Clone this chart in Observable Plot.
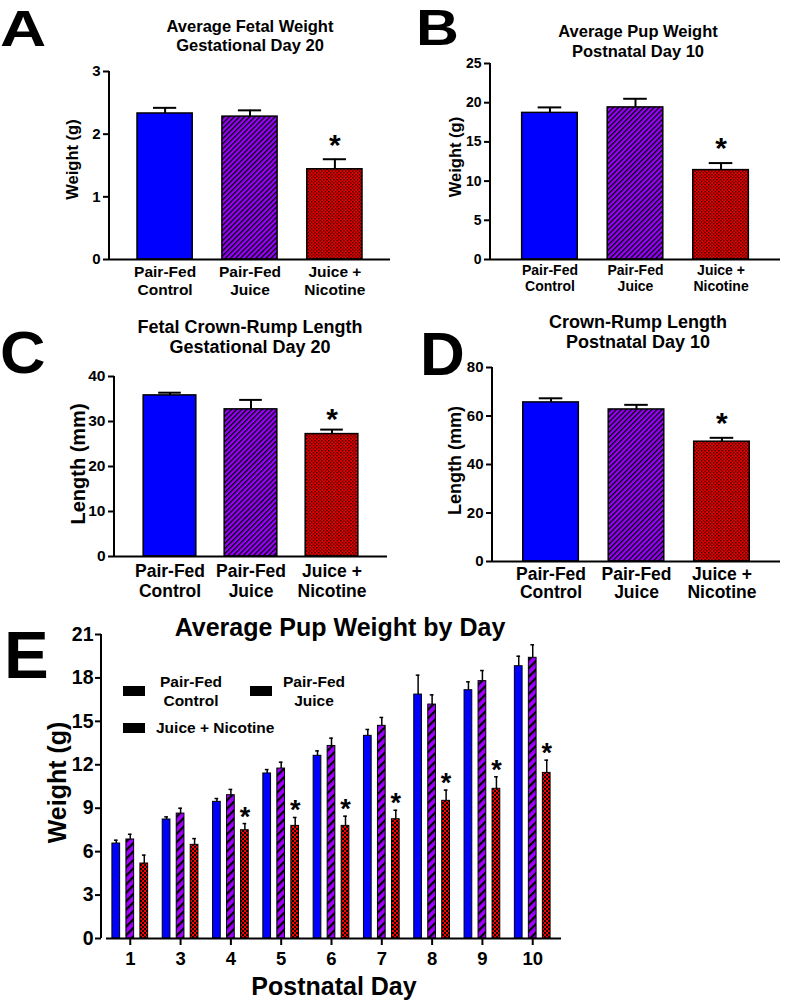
<!DOCTYPE html>
<html>
<head>
<meta charset="utf-8">
<script src="https://cdn.jsdelivr.net/npm/d3@7"></script>
<script src="https://cdn.jsdelivr.net/npm/@observablehq/plot@0.6"></script>
<style>
  html, body { margin: 0; padding: 0; background: #fff; }
  #fig { position: relative; width: 786px; height: 1002px; background: #fff; color: #000;
         font-family: "Liberation Sans", Arial, sans-serif; font-weight: bold; overflow: hidden; }
  #fig div.t { position: absolute; white-space: pre; text-align: center; }
</style>
</head>
<body>
<svg width="0" height="0" style="position:absolute">
  <defs>
    <pattern id="hatchS" patternUnits="userSpaceOnUse" width="3.6" height="3.6" patternTransform="rotate(45)">
      <rect width="3.6" height="3.6" fill="#9b00ff"/>
      <rect width="1.3" height="3.6" fill="#000"/>
    </pattern>
    <pattern id="checkS" patternUnits="userSpaceOnUse" width="3.4" height="3.4">
      <rect width="3.4" height="3.4" fill="#f00000"/>
      <rect width="1.3" height="1.3" fill="#000"/>
      <rect x="1.7" y="1.7" width="1.3" height="1.3" fill="#000"/>
    </pattern>
    <pattern id="hatchL" patternUnits="userSpaceOnUse" width="6" height="6" patternTransform="rotate(45)">
      <rect width="6" height="6" fill="#a100ff"/>
      <rect width="2.2" height="6" fill="#000"/>
    </pattern>
    <pattern id="checkL" patternUnits="userSpaceOnUse" width="4" height="4">
      <rect width="4" height="4" fill="#000"/>
      <rect width="2.1" height="2.1" fill="#ff0000"/>
      <rect x="2" y="2" width="2.1" height="2.1" fill="#ff0000"/>
    </pattern>
  </defs>
</svg>
<div id="fig"></div>
<script>
// ---------------- DATA ----------------
const categories = ["Pair-Fed\nControl", "Pair-Fed\nJuice", "Juice +\nNicotine"];
const significant = [false, false, true];

// A: Average fetal weight, GD20 (g)
const fetalWeight = [2.33, 2.28, 1.44];
const fetalWeightErr = [0.09, 0.10, 0.16];
const fetalWeightTicks = [0, 1, 2, 3];

// B: Average pup weight, PND10 (g)
const pupWeight = [18.7, 19.4, 11.4];
const pupWeightErr = [0.7, 1.1, 0.9];
const pupWeightTicks = [0, 5, 10, 15, 20, 25];

// C: Fetal crown-rump length, GD20 (mm)
const fetalLength = [35.8, 32.7, 27.2];
const fetalLengthErr = [0.6, 2.1, 1.0];
const fetalLengthTicks = [0, 10, 20, 30, 40];

// D: Crown-rump length, PND10 (mm)
const pupLength = [65.6, 62.7, 49.4];
const pupLengthErr = [1.7, 1.9, 1.6];
const pupLengthTicks = [0, 20, 40, 60, 80];

// E: Average pup weight by day (g)
const days = ["1", "3", "4", "5", "6", "7", "8", "9", "10"];
const controlByDay = [6.56, 8.22, 9.44, 11.40, 12.62, 14.00, 16.85, 17.15, 18.81];
const controlByDayErr = [0.23, 0.18, 0.23, 0.27, 0.34, 0.44, 1.34, 0.58, 0.69];
const juiceByDay = [6.84, 8.63, 9.90, 11.74, 13.30, 14.69, 16.16, 17.78, 19.39];
const juiceByDayErr = [0.36, 0.37, 0.40, 0.44, 0.54, 0.58, 0.67, 0.73, 0.90];
const nicotineByDay = [5.18, 6.47, 7.48, 7.78, 7.78, 8.24, 9.51, 10.34, 11.44];
const nicotineByDayErr = [0.58, 0.43, 0.46, 0.58, 0.67, 0.62, 0.74, 0.83, 0.88];
const significantByDay = [false, false, true, true, true, true, true, true, true];
const weightByDayTicks = [0, 3, 6, 9, 12, 15, 18, 21];
const seriesNames = ["Pair-Fed\nControl", "Pair-Fed\nJuice", "Juice + Nicotine"];

// ---------------- HELPERS ----------------
const fig = document.getElementById("fig");
const FONT = "'Liberation Sans', Arial, sans-serif";
const fillSmall = ["#0000ff", "url(#hatchS)", "url(#checkS)"];
const fillLarge = ["#0000ff", "url(#hatchL)", "url(#checkL)"];
const intFmt = d => String(d);

function txt(s, x, baseline, fs, anchor = "middle", lh = null, extra = "") {
  lh = lh || fs * 1.2;
  const d = document.createElement("div");
  d.className = "t";
  const tx = anchor === "middle" ? -50 : anchor === "end" ? -100 : 0;
  d.style.cssText += `left:${x}px;top:${baseline - lh / 2 - 0.3465 * fs}px;font-size:${fs}px;line-height:${lh}px;transform:translateX(${tx}%) ${extra};transform-origin:left center;`;
  d.textContent = s;
  fig.appendChild(d);
  return d;
}

function place(svg, left, top) {
  svg.style.position = "absolute";
  svg.style.left = left + "px";
  svg.style.top = top + "px";
  fig.appendChild(svg);
}

function yAxisLine(plot, x, w) {
  const [y0, y1] = plot.scale("y").range;
  d3.select(plot).append("line")
    .attr("x1", x).attr("x2", x).attr("y1", y0).attr("y2", y1)
    .attr("stroke", "black").attr("stroke-width", w);
}

function barPanel(o) {
  const data = categories.map((c, i) => ({cat: c, v: o.values[i], hi: o.values[i] + o.errs[i], sig: significant[i]}));
  const plot = Plot.plot({
    width: o.width, height: o.height,
    marginLeft: o.ml, marginTop: o.mt, marginBottom: o.mb, marginRight: o.mr,
    style: {fontFamily: FONT, fontWeight: "bold", fontSize: o.tickFs + "px", background: "transparent", overflow: "visible"},
    x: {domain: categories, paddingInner: o.pi, paddingOuter: o.po, round: false, label: null},
    y: {domain: o.domain, label: null},
    color: {type: "identity"},
    marks: [
      Plot.ruleX(data, {x: "cat", y1: "v", y2: "hi", strokeWidth: 2}),
      Plot.tickY(data, {x: "cat", y: "hi", strokeWidth: 2, insetLeft: o.cap, insetRight: o.cap}),
      Plot.barY(data, {x: "cat", y: "v", fill: (d, i) => fillSmall[i], stroke: "black", strokeWidth: 1.5}),
      Plot.text(data.filter(d => d.sig), {x: "cat", y: "hi", text: () => "*", fontSize: 30, fontWeight: "bold", lineAnchor: "bottom", dy: o.starDy}),
      Plot.axisY(o.ticks, {tickSize: 6, tickPadding: 3, fontSize: o.tickFs, strokeWidth: 2, label: null, tickFormat: intFmt}),
      Plot.axisX({tickSize: 0, tickPadding: o.xPad, fontSize: o.xFs, lineHeight: o.xLh, label: null}),
      Plot.ruleY([0], {strokeWidth: 2}),
      Plot.text([o.yLabel], {frameAnchor: "left", textAnchor: "middle", lineAnchor: "middle", rotate: -90,
        dx: o.labelDx, dy: o.labelDy, fontSize: o.labelFs, fontWeight: "bold", text: d => d})
    ]
  });
  yAxisLine(plot, o.ml, 2);
  place(plot, o.left, o.top);
}

// ---------------- PANELS A–D ----------------
barPanel({left: 0, top: 60, width: 390, height: 240, ml: 109, mt: 11, mb: 41, mr: 0, pi: 0.35, po: 0.33,
  values: fetalWeight, errs: fetalWeightErr, domain: [0, 3], ticks: fetalWeightTicks,
  tickFs: 15, xFs: 15.5, xPad: 5, xLh: 1.15, cap: 16, starDy: -4,
  yLabel: "Weight (g)", labelFs: 16.5, labelDx: -37, labelDy: -6});

barPanel({left: 390, top: 60, width: 396, height: 240, ml: 100, mt: 3, mb: 41, mr: 6, pi: 0.35, po: 0.37,
  values: pupWeight, errs: pupWeightErr, domain: [0, 25], ticks: pupWeightTicks,
  tickFs: 14, xFs: 14, xPad: 4, xLh: 1.14, cap: 16, starDy: -5,
  yLabel: "Weight (g)", labelFs: 16.5, labelDx: -35, labelDy: -4.5});

barPanel({left: 0, top: 360, width: 390, height: 250, ml: 114, mt: 16, mb: 54, mr: 3, pi: 0.35, po: 0.36,
  values: fetalLength, errs: fetalLengthErr, domain: [0, 40], ticks: fetalLengthTicks,
  tickFs: 15.5, xFs: 17.5, xPad: 6.5, xLh: 1.14, cap: 15, starDy: -1,
  yLabel: "Length (mm)", labelFs: 20, labelDx: -35.5, labelDy: -2.5});

barPanel({left: 390, top: 360, width: 396, height: 250, ml: 102, mt: 7, mb: 49, mr: 6, pi: 0.35, po: 0.36,
  values: pupLength, errs: pupLengthErr, domain: [0, 80], ticks: pupLengthTicks,
  tickFs: 15, xFs: 17.5, xPad: 5, xLh: 1.05, cap: 16, starDy: -5,
  yLabel: "Length (mm)", labelFs: 18, labelDx: -37, labelDy: -4});

// Titles
txt("Average Fetal Weight\nGestational Day 20", 250, 32, 16.5, "middle", 19.5);
txt("Average Pup Weight\nPostnatal Day 10", 638, 37.5, 16.5, "middle", 19.5);
txt("Fetal Crown-Rump Length\nGestational Day 20", 250, 333, 18, "middle", 20);
txt("Crown-Rump Length\nPostnatal Day 10", 638, 328, 18, "middle", 20);

// Panel letters
txt("A", 0, 46, 50, "start", 40, "scaleX(1.28)");
txt("B", 416, 45, 49.5, "start", 40, "scaleX(1.2)");
txt("C", 0, 374, 60, "start", 44, "scaleX(1.05)");
txt("D", 420, 375, 62, "start", 44, "scaleX(1.0)");
txt("E", 4, 678, 67, "start", 50, "scaleX(1.0)");

// ---------------- PANEL E ----------------
const seriesValues = [controlByDay, juiceByDay, nicotineByDay];
const seriesErrs = [controlByDayErr, juiceByDayErr, nicotineByDayErr];
const STEP = 14;
const eMarks = [];
seriesValues.forEach((vals, s) => {
  const rows = days.map((d, i) => ({day: d, v: vals[i], hi: vals[i] + seriesErrs[s][i], sig: significantByDay[i]}));
  eMarks.push(
    Plot.ruleX(rows, {x: "day", y1: "v", y2: "hi", dx: (s - 1) * STEP, strokeWidth: 1.5}),
    Plot.tickY(rows, {x: "day", y: "hi", strokeWidth: 1.5, insetLeft: s * STEP + 2, insetRight: 30 - s * STEP}),
    Plot.barY(rows, {x: "day", y: "v", fill: fillLarge[s], stroke: "black", strokeWidth: 1,
      insetLeft: s * STEP, insetRight: (2 - s) * STEP})
  );
  if (s === 2) {
    eMarks.push(Plot.text(rows.filter(r => r.sig), {x: "day", y: "hi", text: () => "*", dx: STEP, dy: 2,
      lineAnchor: "bottom", fontSize: 27, fontWeight: "bold"}));
  }
});
const plotE = Plot.plot({
  width: 786, height: 392, marginLeft: 101, marginTop: 24, marginBottom: 64, marginRight: 225,
  style: {fontFamily: FONT, fontWeight: "bold", fontSize: "19px", background: "transparent", overflow: "visible"},
  x: {domain: days, paddingInner: 0.29, paddingOuter: 0.217, round: false, label: null},
  y: {domain: [0, 21], label: null},
  marks: [
    ...eMarks,
    Plot.axisY(weightByDayTicks, {tickSize: 6, tickPadding: 2, fontSize: 19.5, strokeWidth: 2, label: null, tickFormat: intFmt}),
    Plot.axisX({tickSize: 7, tickPadding: 6, fontSize: 18.5, strokeWidth: 2, label: null}),
    Plot.ruleY([0], {strokeWidth: 2, insetLeft: 5}),
    Plot.text(["Weight (g)"], {frameAnchor: "left", textAnchor: "middle", lineAnchor: "middle", rotate: -90,
      dx: -44, dy: -4, fontSize: 25, fontWeight: "bold", text: d => d})
  ]
});
yAxisLine(plotE, 101, 2);
place(plotE, 0, 610);

txt("Average Pup Weight by Day", 340, 636, 25);
txt("Postnatal Day", 334, 995, 25);

// Legend (swatches render black, as in the reference)
function swatch(x, y) {
  const d = document.createElement("div");
  d.style.cssText = `position:absolute;left:${x}px;top:${y}px;width:22px;height:10px;background:#000;`;
  fig.appendChild(d);
}
swatch(123, 686); swatch(250, 686); swatch(123, 723);
txt(seriesNames[0], 191, 687, 15.5, "middle", 19.5);
txt(seriesNames[1], 314, 687, 15.5, "middle", 19.5);
txt(seriesNames[2], 156, 733, 15.5, "start", 19.5);
</script>
</body>
</html>
